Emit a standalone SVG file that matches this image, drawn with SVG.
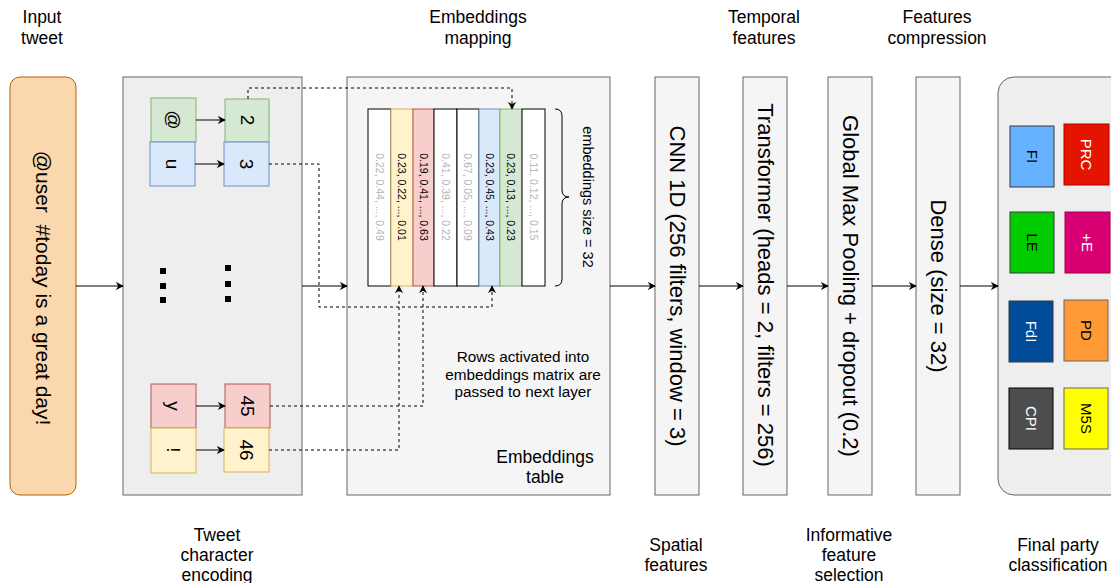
<svg xmlns="http://www.w3.org/2000/svg" width="1111" height="583" viewBox="0 0 1111 583">
<style>
text{font-family:"Liberation Sans",Arial,sans-serif;fill:#000}
.lbl{font-size:17.5px;text-anchor:middle}
.note{font-size:15.3px;text-anchor:middle}
.rot{text-anchor:middle;dominant-baseline:central}
.layer{fill:#f5f5f5;stroke:#666;stroke-width:1}
.big{font-size:22px}
.chr{font-size:19px}
.party{font-size:15px}
.wt{fill:#fff}
.col{font-size:10.5px}
.grey{fill:#b3b3b3}
.conn{fill:none;stroke:#000;stroke-width:1}
.dash{fill:none;stroke:#000;stroke-width:1;stroke-dasharray:3 3}
</style>
<defs>
<marker id="ar" viewBox="0 0 10 10" refX="9" refY="5" markerWidth="8" markerHeight="8" markerUnits="userSpaceOnUse" orient="auto">
<path d="M0,0 L10,5 L0,10 L3,5 Z" fill="#000"/>
</marker>
</defs>

<g id="labels">
<text class="lbl" x="42" y="23">Input</text>
<text class="lbl" x="42" y="44">tweet</text>
<text class="lbl" x="478" y="23">Embeddings</text>
<text class="lbl" x="478" y="44">mapping</text>
<text class="lbl" x="764" y="23">Temporal</text>
<text class="lbl" x="764" y="44">features</text>
<text class="lbl" x="937" y="23">Features</text>
<text class="lbl" x="937" y="44">compression</text>
<text class="lbl" x="217" y="541">Tweet</text>
<text class="lbl" x="217" y="561">character</text>
<text class="lbl" x="217" y="581">encoding</text>
<text class="lbl" x="676" y="551">Spatial</text>
<text class="lbl" x="676" y="571">features</text>
<text class="lbl" x="849" y="541">Informative</text>
<text class="lbl" x="849" y="561">feature</text>
<text class="lbl" x="849" y="581">selection</text>
<text class="lbl" x="1058" y="551">Final party</text>
<text class="lbl" x="1058" y="571">classification</text>
</g>

<g id="input">
<rect x="10" y="77" width="66" height="418" rx="10" fill="#fad7ac" stroke="#b46504"/>
<text class="rot" font-size="21" transform="translate(43,288) rotate(90)" xml:space="preserve">@user  #today is a great day!</text>
</g>

<g id="encoding">
<rect x="123" y="77" width="179" height="418" fill="#eeeeee" stroke="#666"/>
<rect x="151" y="98" width="45" height="44" fill="#d5e8d4" stroke="#82b366"/>
<text class="rot chr" transform="translate(173,120) rotate(90)">@</text>
<rect x="225" y="99" width="44" height="43" fill="#d5e8d4" stroke="#82b366"/>
<text class="rot chr" transform="translate(247,120) rotate(90)">2</text>
<rect x="150" y="142" width="45" height="44" fill="#dae8fc" stroke="#6c8ebf"/>
<text class="rot chr" transform="translate(172,164) rotate(90)">u</text>
<rect x="224" y="142" width="45" height="44" fill="#dae8fc" stroke="#6c8ebf"/>
<text class="rot chr" transform="translate(246,164) rotate(90)">3</text>
<rect x="151" y="384" width="45" height="44" fill="#f8cecc" stroke="#b85450"/>
<text class="rot chr" transform="translate(173,406) rotate(90)">y</text>
<rect x="225" y="384" width="45" height="44" fill="#f8cecc" stroke="#b85450"/>
<text class="rot chr" transform="translate(247,406) rotate(90)">45</text>
<rect x="151" y="428" width="45" height="45" fill="#fff2cc" stroke="#d6b656"/>
<text class="rot chr" transform="translate(173,450) rotate(90)">!</text>
<rect x="224" y="428" width="45" height="44" fill="#fff2cc" stroke="#d6b656"/>
<text class="rot chr" transform="translate(246,450) rotate(90)">46</text>
<rect x="160" y="268" width="6" height="6" fill="#000"/>
<rect x="160" y="283" width="6" height="6" fill="#000"/>
<rect x="160" y="297" width="6" height="6" fill="#000"/>
<rect x="225" y="265" width="6" height="6" fill="#000"/>
<rect x="225" y="281" width="6" height="6" fill="#000"/>
<rect x="225" y="296" width="6" height="6" fill="#000"/>
</g>

<g id="embeddings">
<rect x="347" y="77" width="263" height="418" fill="#f5f5f5" stroke="#666"/>
<rect x="368" y="109" width="23" height="177" fill="#fff" stroke="#000"/>
<rect x="391" y="109" width="22" height="177" fill="#fff2cc" stroke="#d6b656"/>
<rect x="413" y="109" width="21" height="177" fill="#f8cecc" stroke="#b85450"/>
<rect x="434" y="109" width="23" height="177" fill="#fff" stroke="#000"/>
<rect x="457" y="109" width="22" height="177" fill="#fff" stroke="#000"/>
<rect x="479" y="109" width="21" height="177" fill="#dae8fc" stroke="#6c8ebf"/>
<rect x="500" y="109" width="22" height="177" fill="#d5e8d4" stroke="#82b366"/>
<rect x="522" y="109" width="23" height="177" fill="#fff" stroke="#000"/>
<text class="rot col grey" transform="translate(379.5,197) rotate(90)">0.22, 0.44, ..., 0.49</text>
<text class="rot col" transform="translate(402,197) rotate(90)">0.23, 0.22, ..., 0.01</text>
<text class="rot col" transform="translate(423.5,197) rotate(90)">0.19, 0.41, ..., 0.63</text>
<text class="rot col grey" transform="translate(445.5,197) rotate(90)">0.41, 0.39, ..., 0.22</text>
<text class="rot col grey" transform="translate(468,197) rotate(90)">0.67, 0.05, ..., 0.09</text>
<text class="rot col" transform="translate(489.5,197) rotate(90)">0.23, 0.45, ..., 0.43</text>
<text class="rot col" transform="translate(511,197) rotate(90)">0.23, 0.13, ..., 0.23</text>
<text class="rot col grey" transform="translate(533.5,197) rotate(90)">0.11, 0.12, ..., 0.15</text>
<path d="M555,109 Q562,109 562,116 L562,190 Q562,197 569,197 Q562,197 562,204 L562,279 Q562,286 555,286" fill="none" stroke="#000"/>
<text class="rot" font-size="14.5" transform="translate(588,197) rotate(90)">embeddings size = 32</text>
<text class="note" x="523" y="362">Rows activated into</text>
<text class="note" x="523" y="380">embeddings matrix are</text>
<text class="note" x="523" y="397">passed to next layer</text>
<text class="lbl" x="545" y="463">Embeddings</text>
<text class="lbl" x="545" y="483">table</text>
</g>

<g id="cnn">
<rect class="layer" x="655" y="77" width="44" height="418"/>
<text class="rot big" transform="translate(677,286) rotate(90)">CNN 1D (256 filters, window = 3)</text>
</g>
<g id="transformer">
<rect class="layer" x="743" y="77" width="44" height="418"/>
<text class="rot big" transform="translate(765,285) rotate(90)">Transformer (heads = 2, filters = 256)</text>
</g>
<g id="pooling">
<rect class="layer" x="828" y="77" width="44" height="418"/>
<text class="rot big" transform="translate(850,286) rotate(90)">Global Max Pooling + dropout (0.2)</text>
</g>
<g id="dense">
<rect class="layer" x="916" y="77" width="44" height="418"/>
<text class="rot big" transform="translate(938,286) rotate(90)">Dense (size = 32)</text>
</g>

<g id="classification">
<rect x="998" y="77" width="140" height="418" rx="16" fill="#eeeeee" stroke="#666"/>
<rect x="1010" y="126" width="44" height="61" fill="#66b2ff" stroke="#36393d"/>
<text class="rot party" transform="translate(1032,156.5) rotate(90)">FI</text>
<rect x="1064" y="124" width="45" height="61" fill="#e51400" stroke="#b20000"/>
<text class="rot party wt" transform="translate(1086.5,154.5) rotate(90)">PRC</text>
<rect x="1065" y="212" width="45" height="61" fill="#d80073" stroke="#a50040"/>
<text class="rot party wt" transform="translate(1087.5,242.5) rotate(90)">+E</text>
<rect x="1010" y="212" width="44" height="61" fill="#00cc00" stroke="#36393d"/>
<text class="rot party" transform="translate(1032,242.5) rotate(90)">LE</text>
<rect x="1009" y="301" width="44" height="61" fill="#004c99" stroke="#36393d"/>
<text class="rot party wt" transform="translate(1031,331.5) rotate(90)">FdI</text>
<rect x="1064" y="300" width="44" height="61" fill="#ff9933" stroke="#666"/>
<text class="rot party" transform="translate(1086,330.5) rotate(90)">PD</text>
<rect x="1009" y="388" width="44" height="61" fill="#4d4d4d" stroke="#000"/>
<text class="rot party wt" transform="translate(1031,418.5) rotate(90)">CPI</text>
<rect x="1064" y="388" width="44" height="61" fill="#ffff00" stroke="#666"/>
<text class="rot party" transform="translate(1086,418.5) rotate(90)">M5S</text>
</g>

<g id="connectors">
<line class="conn" x1="76" y1="286" x2="123" y2="286" marker-end="url(#ar)"/>
<line class="conn" x1="302" y1="286" x2="347" y2="286" marker-end="url(#ar)"/>
<line class="conn" x1="610" y1="286" x2="655" y2="286" marker-end="url(#ar)"/>
<line class="conn" x1="699" y1="286" x2="743" y2="286" marker-end="url(#ar)"/>
<line class="conn" x1="787" y1="286" x2="828" y2="286" marker-end="url(#ar)"/>
<line class="conn" x1="872" y1="286" x2="916" y2="286" marker-end="url(#ar)"/>
<line class="conn" x1="960" y1="286" x2="998" y2="286" marker-end="url(#ar)"/>
<line class="conn" x1="196" y1="120" x2="225" y2="120" marker-end="url(#ar)"/>
<line class="conn" x1="195" y1="164" x2="224" y2="164" marker-end="url(#ar)"/>
<line class="conn" x1="196" y1="406" x2="225" y2="406" marker-end="url(#ar)"/>
<line class="conn" x1="196" y1="450" x2="224" y2="450" marker-end="url(#ar)"/>
<path class="dash" d="M248,99 L248,88 L512,88 L512,109" marker-end="url(#ar)"/>
<path class="dash" d="M269,164 L319,164 L319,307 L492,307 L492,286" marker-end="url(#ar)"/>
<path class="dash" d="M270,406 L423,406 L423,286" marker-end="url(#ar)"/>
<path class="dash" d="M269,450 L399,450 L399,286" marker-end="url(#ar)"/>
</g>
</svg>
